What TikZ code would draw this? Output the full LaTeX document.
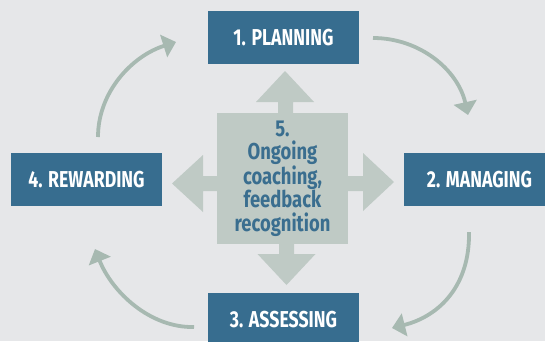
\documentclass[tikz,border=0pt]{standalone}
\usepackage{fontspec}
\usetikzlibrary{arrows.meta}
\newfontfamily\condfont[FakeStretch=0.77]{Fira Sans}
\newfontfamily\condfontc[FakeStretch=0.80]{Fira Sans}
\definecolor{bgc}{HTML}{E6E7E9}
\definecolor{boxblue}{HTML}{376D8F}
\definecolor{crossc}{HTML}{BFCAC5}
\definecolor{curvec}{HTML}{A7B9B1}
\definecolor{textblue}{HTML}{3A6E8F}
\tikzset{
  stagebox/.style={fill=boxblue, text=white, minimum width=151pt, minimum height=53pt,
    inner sep=0pt, font=\condfont\bfseries\fontsize{23}{24}\selectfont},
  cyclearrow/.style={draw=curvec, line width=3.8pt,
    -{Triangle[length=13pt,width=23pt]}},
  crossarm/.style={fill=crossc},
}
\begin{document}
\begin{tikzpicture}[x=1pt,y=-1pt]
\useasboundingbox (0,0) rectangle (545,341);
\fill[bgc] (0,0) rectangle (545,341);
% cross arms
\fill[crossarm] (278,114) -- (278,102) -- (256,102) -- (285,71) -- (314,102) -- (293,102) -- (293,114) -- cycle;
\fill[crossarm] (279,243) -- (279,254) -- (257.5,254) -- (286.5,285) -- (315.5,254) -- (294,254) -- (294,243) -- cycle;
\fill[crossarm] (218,176) -- (203,176) -- (203,155) -- (172,183.5) -- (203,212) -- (203,191) -- (218,191) -- cycle;
\fill[crossarm] (347,176) -- (363,176) -- (363,153) -- (394,182) -- (363,211) -- (363,191) -- (347,191) -- cycle;
\node[fill=crossc, minimum width=131pt, minimum height=131pt, inner sep=0pt,
  text=textblue, align=center,
  font=\condfontc\bfseries\fontsize{23}{23.3}\selectfont] (center) at (282.5,178.5)
  {5.\\Ongoing\\coaching,\\feedback\\recognition};
% stage boxes
\node[stagebox] (plan) at (283.5,37.5) {1. PLANNING};
\node[stagebox] (manage) at (479.5,179.5) {2. MANAGING};
\node[stagebox] (assess) at (283.5,319.5) {3. ASSESSING};
\node[stagebox] (reward) at (86.5,179.5) {4. REWARDING};
% connector end points
\coordinate (a1) at (373,38);
\coordinate (b1) at (468,115);
\coordinate (a2) at (469,232);
\coordinate (b2) at (392,328);
\coordinate (a3) at (194,327);
\coordinate (b3) at (95,249);
\coordinate (a4) at (98,137);
\coordinate (b4) at (176,42);
\draw[cyclearrow] (a1) .. controls (420,38) and (458,70) .. (b1);
\draw[cyclearrow] (a2) .. controls (470,285) and (440,316) .. (b2);
\draw[cyclearrow] (a3) .. controls (150,328) and (112,292) .. (b3);
\draw[cyclearrow] (a4) .. controls (98,92) and (132,56) .. (b4);
\end{tikzpicture}
\end{document}
